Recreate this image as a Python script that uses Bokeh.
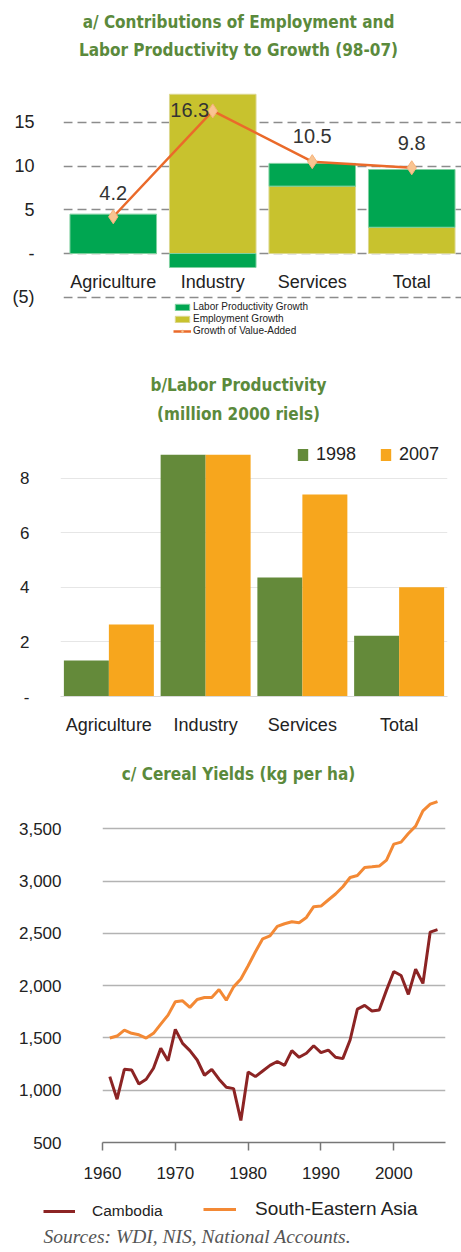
from bokeh.plotting import figure
from bokeh.models import (ColumnDataSource, Range1d, Legend, LegendItem, Label,
                          NumeralTickFormatter, FactorRange)
from bokeh.embed import file_html
from bokeh.resources import INLINE
from bokeh.core.properties import value
from bokeh.transform import dodge

# ---------------- data: chart a ----------------
sectors = ["Agriculture", "Industry", "Services", "Total"]
labor_prod_growth = [4.5, -1.6, 2.6, 6.6]
employment_growth = [0.0, 18.2, 7.7, 3.0]
value_added_growth = [4.2, 16.3, 10.5, 9.8]
a_ticks = [-5, 0, 5, 10, 15]
a_tick_labels = ["(5)", "-", "5", "10", "15"]

# ---------------- data: chart b ----------------
prod_1998 = [1.32, 8.86, 4.36, 2.23]
prod_2007 = [2.64, 8.86, 7.40, 4.00]
b_ticks = [0, 2, 4, 6, 8]
b_tick_labels = ["-", "2", "4", "6", "8"]

# ---------------- data: chart c ----------------
years = list(range(1961, 2007))
cambodia = [1130, 914, 1200, 1194, 1060, 1105, 1210, 1400, 1282, 1582,
            1448, 1378, 1289, 1143, 1200, 1105, 1029, 1015, 710, 1175,
            1130, 1184, 1238, 1275, 1238, 1378, 1315, 1353, 1425, 1359,
            1384, 1315, 1302, 1480, 1776, 1811, 1757, 1766, 1957, 2135,
            2097, 1916, 2157, 2021, 2512, 2535]
se_asia = [1499, 1518, 1575, 1544, 1530, 1499, 1544, 1632, 1718, 1845,
           1855, 1792, 1868, 1887, 1887, 1963, 1861, 1988, 2063, 2190,
           2324, 2448, 2476, 2567, 2592, 2611, 2602, 2652, 2755, 2761,
           2819, 2876, 2946, 3034, 3053, 3130, 3136, 3143, 3200, 3353,
           3372, 3454, 3525, 3671, 3735, 3760]
c_ticks_x = [1960, 1970, 1980, 1990, 2000]
c_ticks_y = [500, 1000, 1500, 2000, 2500, 3000, 3500]

# ---------------- styles ----------------
W = 461
FONT = "Liberation Sans"
TITLE_FONT = "DejaVu Sans Condensed"
TITLE_COLOR = "#5b8a3c"
TXT = "#222222"
KH_COLOR = "#8c2424"
SEA_COLOR = "#f38935"

common = dict(output_backend="svg", toolbar_location=None, title=None)


def text_panel(height):
    f = figure(width=W, height=height, x_range=Range1d(0, W), y_range=Range1d(0, height),
               min_border=0, x_axis_location=None, y_axis_location=None, **common)
    f.outline_line_color = None
    f.xgrid.visible = False
    f.ygrid.visible = False
    return f


def title_label(x, y, text, size="17px"):
    return Label(x=x, y=y, x_units="screen", y_units="screen", text=text,
                 text_align="center", text_baseline="alphabetic",
                 text_font=TITLE_FONT, text_font_style="bold",
                 text_font_size=size, text_color=TITLE_COLOR)


def style_y(axis, standoff, size):
    axis.axis_line_color = None
    axis.major_tick_line_color = None
    axis.minor_tick_line_color = None
    axis.major_label_standoff = standoff
    axis.major_label_text_font = FONT
    axis.major_label_text_font_size = size
    axis.major_label_text_color = TXT


# ================= title a =================
ta = text_panel(80)
ta.add_layout(title_label(238, 59, "a/ Contributions of Employment and"))
ta.add_layout(title_label(238, 31, "Labor Productivity to Growth (98-07)"))

# ================= chart a =================
pa = figure(x_range=FactorRange(*sectors), y_range=Range1d(-9.94, 19.2),
            width=W, height=265, min_border_left=63, min_border_right=0,
            min_border_top=5, min_border_bottom=5, **common)
pa.outline_line_color = None

lab_bottom = [e if l >= 0 else 0 for e, l in zip(employment_growth, labor_prod_growth)]
lab_top = [b + l for b, l in zip(lab_bottom, labor_prod_growth)]
emp_bottom = [0 for _ in employment_growth]

src_a = ColumnDataSource(dict(sector=sectors, emp_b=emp_bottom, emp_t=employment_growth,
                              lab_b=lab_bottom, lab_t=lab_top, va=value_added_growth,
                              va_txt=[f"{v:.1f}" for v in value_added_growth]))

r_emp = pa.vbar(x="sector", bottom="emp_b", top="emp_t", width=0.87, source=src_a,
                fill_color="#c8c22e", line_color="#dcd890", line_width=1)
r_lab = pa.vbar(x="sector", bottom="lab_b", top="lab_t", width=0.87, source=src_a,
                fill_color="#00a651", line_color="#7fd0a0", line_width=1)
r_line = pa.line(x="sector", y="va", source=src_a, line_color="#ea6a2a", line_width=2.5)
r_pts = pa.scatter(x="sector", y="va", source=src_a, marker="diamond", size=14,
                   fill_color="#f9c491", line_color="#f6b27a")

label_dx = [0, -23, 0, 0]
label_dy = [-24, -1, -26, -25]
src_a.data["dx"] = label_dx
src_a.data["dy"] = label_dy
pa.text(x="sector", y="va", text="va_txt", source=src_a, x_offset="dx", y_offset="dy",
        text_align="center", text_baseline="middle", text_font=value(FONT),
        text_font_size="20px", text_color="#333333")

CAT_LABEL_Y = -3.3
pa.text(x=sectors, y=[CAT_LABEL_Y] * len(sectors), text=sectors,
        text_align="center", text_baseline="middle", text_font=value(FONT),
        text_font_size="18px", text_color=TXT)

pa.xaxis.visible = False
pa.xgrid.visible = False
pa.yaxis.ticker = a_ticks
pa.yaxis.major_label_overrides = {t: s for t, s in zip(a_ticks, a_tick_labels)}
style_y(pa.yaxis, 23, "18px")
pa.ygrid.grid_line_color = "#8c8c8c"
pa.ygrid.grid_line_width = 1.3
pa.ygrid.grid_line_dash = "9 5"

leg_a = Legend(items=[LegendItem(label="Labor Productivity Growth", renderers=[r_lab]),
                      LegendItem(label="Employment Growth", renderers=[r_emp]),
                      LegendItem(label="Growth of Value-Added", renderers=[r_line, r_pts])],
               location=(110, 4), orientation="vertical", glyph_width=18, glyph_height=8,
               label_height=9, spacing=1, padding=0, margin=0, label_standoff=2,
               label_text_font=FONT, label_text_font_size="10px", label_text_color=TXT,
               border_line_alpha=0, background_fill_alpha=0)
pa.add_layout(leg_a)

# ================= title b =================
tb = text_panel(87)
tb.add_layout(title_label(238, 47.5, "b/Labor Productivity"))
tb.add_layout(title_label(238, 18.5, "(million 2000 riels)"))

# ================= chart b =================
pb = figure(x_range=FactorRange(*sectors), y_range=Range1d(0, 9.38),
            width=W, height=313, min_border_left=60, min_border_right=14,
            min_border_top=8, min_border_bottom=49, **common)
pb.outline_line_color = None
src_b = ColumnDataSource(dict(sector=sectors, y1998=prod_1998, y2007=prod_2007))
r98 = pb.vbar(x=dodge("sector", -0.2325, range=pb.x_range), top="y1998", width=0.465,
              source=src_b, fill_color="#648a3a", line_color=None)
r07 = pb.vbar(x=dodge("sector", 0.2325, range=pb.x_range), top="y2007", width=0.465,
              source=src_b, fill_color="#f7a61d", line_color=None)

pb.xgrid.visible = False
pb.ygrid.grid_line_color = "#e6e6e6"
pb.ygrid.grid_line_width = 1
pb.xaxis.axis_line_color = "#d9d9d9"
pb.xaxis.major_tick_line_color = None
pb.xaxis.major_label_standoff = 12
pb.xaxis.major_label_text_font = FONT
pb.xaxis.major_label_text_font_size = "18px"
pb.xaxis.major_label_text_color = TXT
pb.yaxis.ticker = b_ticks
pb.yaxis.major_label_overrides = {t: s for t, s in zip(b_ticks, b_tick_labels)}
style_y(pb.yaxis, 25, "17px")

leg_b = Legend(items=[LegendItem(label="1998", renderers=[r98]),
                      LegendItem(label="2007", renderers=[r07])],
               location=(236, 231), orientation="horizontal", glyph_width=13, glyph_height=15,
               label_height=15, spacing=23, padding=0, margin=0, label_standoff=7,
               label_text_font=FONT, label_text_font_size="18px", label_text_color=TXT,
               border_line_alpha=0, background_fill_alpha=0)
pb.add_layout(leg_b)

# ================= title c =================
tc = text_panel(50)
tc.add_layout(title_label(238, 22, "c/ Cereal Yields (kg per ha)"))

# ================= chart c =================
pc = figure(x_range=Range1d(1960, 2007.1), y_range=Range1d(500, 3818),
            width=W, height=395, min_border_left=102, min_border_right=16,
            min_border_top=0, min_border_bottom=48, **common)
pc.outline_line_color = None
rc_se = pc.line(years, se_asia, line_color=SEA_COLOR, line_width=3)
rc_kh = pc.line(years, cambodia, line_color=KH_COLOR, line_width=3)

pc.xgrid.visible = False
pc.ygrid.grid_line_color = "#b3b3b3"
pc.ygrid.grid_line_width = 1.3
pc.xaxis.ticker = c_ticks_x
pc.xaxis.axis_line_color = "#777777"
pc.xaxis.axis_line_width = 1.5
pc.xaxis.major_tick_line_color = "#777777"
pc.xaxis.major_tick_line_width = 1.5
pc.xaxis.major_tick_out = 8
pc.xaxis.major_tick_in = 0
pc.xaxis.minor_tick_line_color = None
pc.xaxis.major_label_standoff = 16
pc.xaxis.major_label_text_font = FONT
pc.xaxis.major_label_text_font_size = "17px"
pc.xaxis.major_label_text_color = TXT
pc.yaxis.ticker = c_ticks_y
pc.yaxis.formatter = NumeralTickFormatter(format="0,0")
style_y(pc.yaxis, 35, "17px")

# ================= footer (legend + sources) =================
pf = text_panel(60)
nan = float("nan")
kh_key = pf.line(x=[nan], y=[nan], line_color=KH_COLOR, line_width=3)
se_key = pf.line(x=[nan], y=[nan], line_color=SEA_COLOR, line_width=3)
leg_c1 = Legend(items=[LegendItem(label="Cambodia", renderers=[kh_key])],
                location=(43, 30), orientation="horizontal", glyph_width=32, glyph_height=16,
                label_height=16, padding=0, margin=0, label_standoff=17,
                label_text_font=FONT, label_text_font_size="15.5px", label_text_color=TXT,
                border_line_alpha=0, background_fill_alpha=0)
leg_c2 = Legend(items=[LegendItem(label="South-Eastern Asia", renderers=[se_key])],
                location=(203, 30), orientation="horizontal", glyph_width=33, glyph_height=16,
                label_height=16, padding=0, margin=0, label_standoff=19,
                label_text_font=FONT, label_text_font_size="19px", label_text_color=TXT,
                border_line_alpha=0, background_fill_alpha=0)
pf.add_layout(leg_c1)
pf.add_layout(leg_c2)
pf.add_layout(Label(x=43, y=14, x_units="screen", y_units="screen",
                    text="Sources: WDI, NIS, National Accounts.", text_align="left",
                    text_baseline="alphabetic", text_font="Liberation Serif",
                    text_font_style="italic", text_font_size="19.5px", text_color="#555555"))

roots = [ta, pa, tb, pb, tc, pc, pf]
open("out.html", "w").write(file_html(roots, INLINE))
